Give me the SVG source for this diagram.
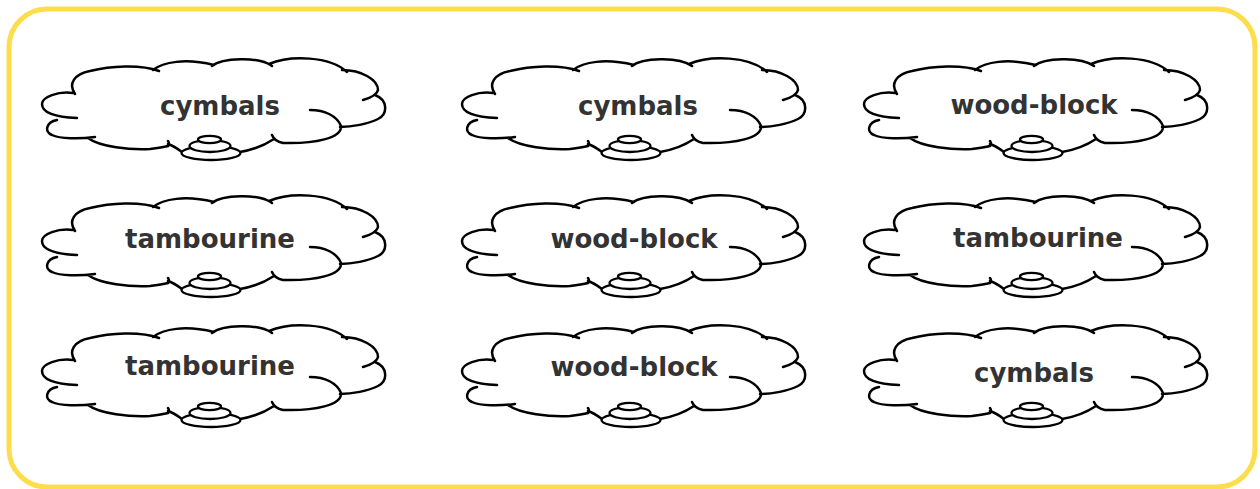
<svg xmlns="http://www.w3.org/2000/svg" xmlns:xlink="http://www.w3.org/1999/xlink" width="1260" height="489" viewBox="0 0 1260 489">
<style>
.ol{fill:none;stroke:#000;stroke-width:2.5;stroke-linecap:round;stroke-linejoin:round}
.bt{fill:#fff;stroke:#000;stroke-width:2.3}
.lbl{font-family:"DejaVu Sans","Noto Sans",sans-serif;font-weight:bold;font-size:26px;fill:#333;text-anchor:middle}
</style>
<defs>
<g id="cloud">
<path class="ol" d="M75 94 C68 84 74 74 90 71 C110 66 140 64 159 71
M153 70 C163 62 185 58 214 65
M212 66 C222 58 258 56 272 66
M269 64 C290 55 330 56 347 72
M342 70 C362 70 378 80 378 90 C377 95 370 98 363 100
M375 95 C388 100 388 114 378 119 C368 124 352 127 340 127
M310 110 C325 110 337 116 341 126 C342 138 315 144 283 143 C278 142 274 140 272 135
M274 139 C265 145 252 150 240 152
M73 93 C58 91 42 97 42 104 C42 113 55 117 77 118
M57 120 C46 122 44 132 52 135 C60 139 80 139 95 137
M88 138 C100 147 130 150 150 149 C158 148 164 147 168 146 Q170 144 168 141
M168 144 C174 146 178 149 182 152"/>
<ellipse class="bt" cx="211" cy="153" rx="29.5" ry="7"/>
<ellipse class="bt" cx="210" cy="146" rx="20.5" ry="6"/>
<ellipse class="bt" cx="209.5" cy="139.5" rx="11.5" ry="3.7"/>
</g>
</defs>
<rect x="9" y="9" width="1246" height="478" rx="38" ry="38" fill="#fff" stroke="#FDDD4B" stroke-width="5"/>
<g id="node-r1c1"><use xlink:href="#cloud"/><text class="lbl" x="220" y="114.5">cymbals</text></g>
<g id="node-r1c2"><use xlink:href="#cloud" transform="translate(420,0)"/><text class="lbl" x="638" y="115">cymbals</text></g>
<g id="node-r1c3"><use xlink:href="#cloud" transform="translate(822,0)"/><text class="lbl" x="1034" y="113.5">wood-block</text></g>
<g id="node-r2c1"><use xlink:href="#cloud" transform="translate(0,137)"/><text class="lbl" x="210" y="248">tambourine</text></g>
<g id="node-r2c2"><use xlink:href="#cloud" transform="translate(420,137)"/><text class="lbl" x="634" y="248">wood-block</text></g>
<g id="node-r2c3"><use xlink:href="#cloud" transform="translate(822,137)"/><text class="lbl" x="1038" y="247">tambourine</text></g>
<g id="node-r3c1"><use xlink:href="#cloud" transform="translate(0,267)"/><text class="lbl" x="210" y="375">tambourine</text></g>
<g id="node-r3c2"><use xlink:href="#cloud" transform="translate(420,267)"/><text class="lbl" x="634" y="376">wood-block</text></g>
<g id="node-r3c3"><use xlink:href="#cloud" transform="translate(822,267)"/><text class="lbl" x="1034" y="381.5">cymbals</text></g>
<g id="connectors"/>
</svg>
